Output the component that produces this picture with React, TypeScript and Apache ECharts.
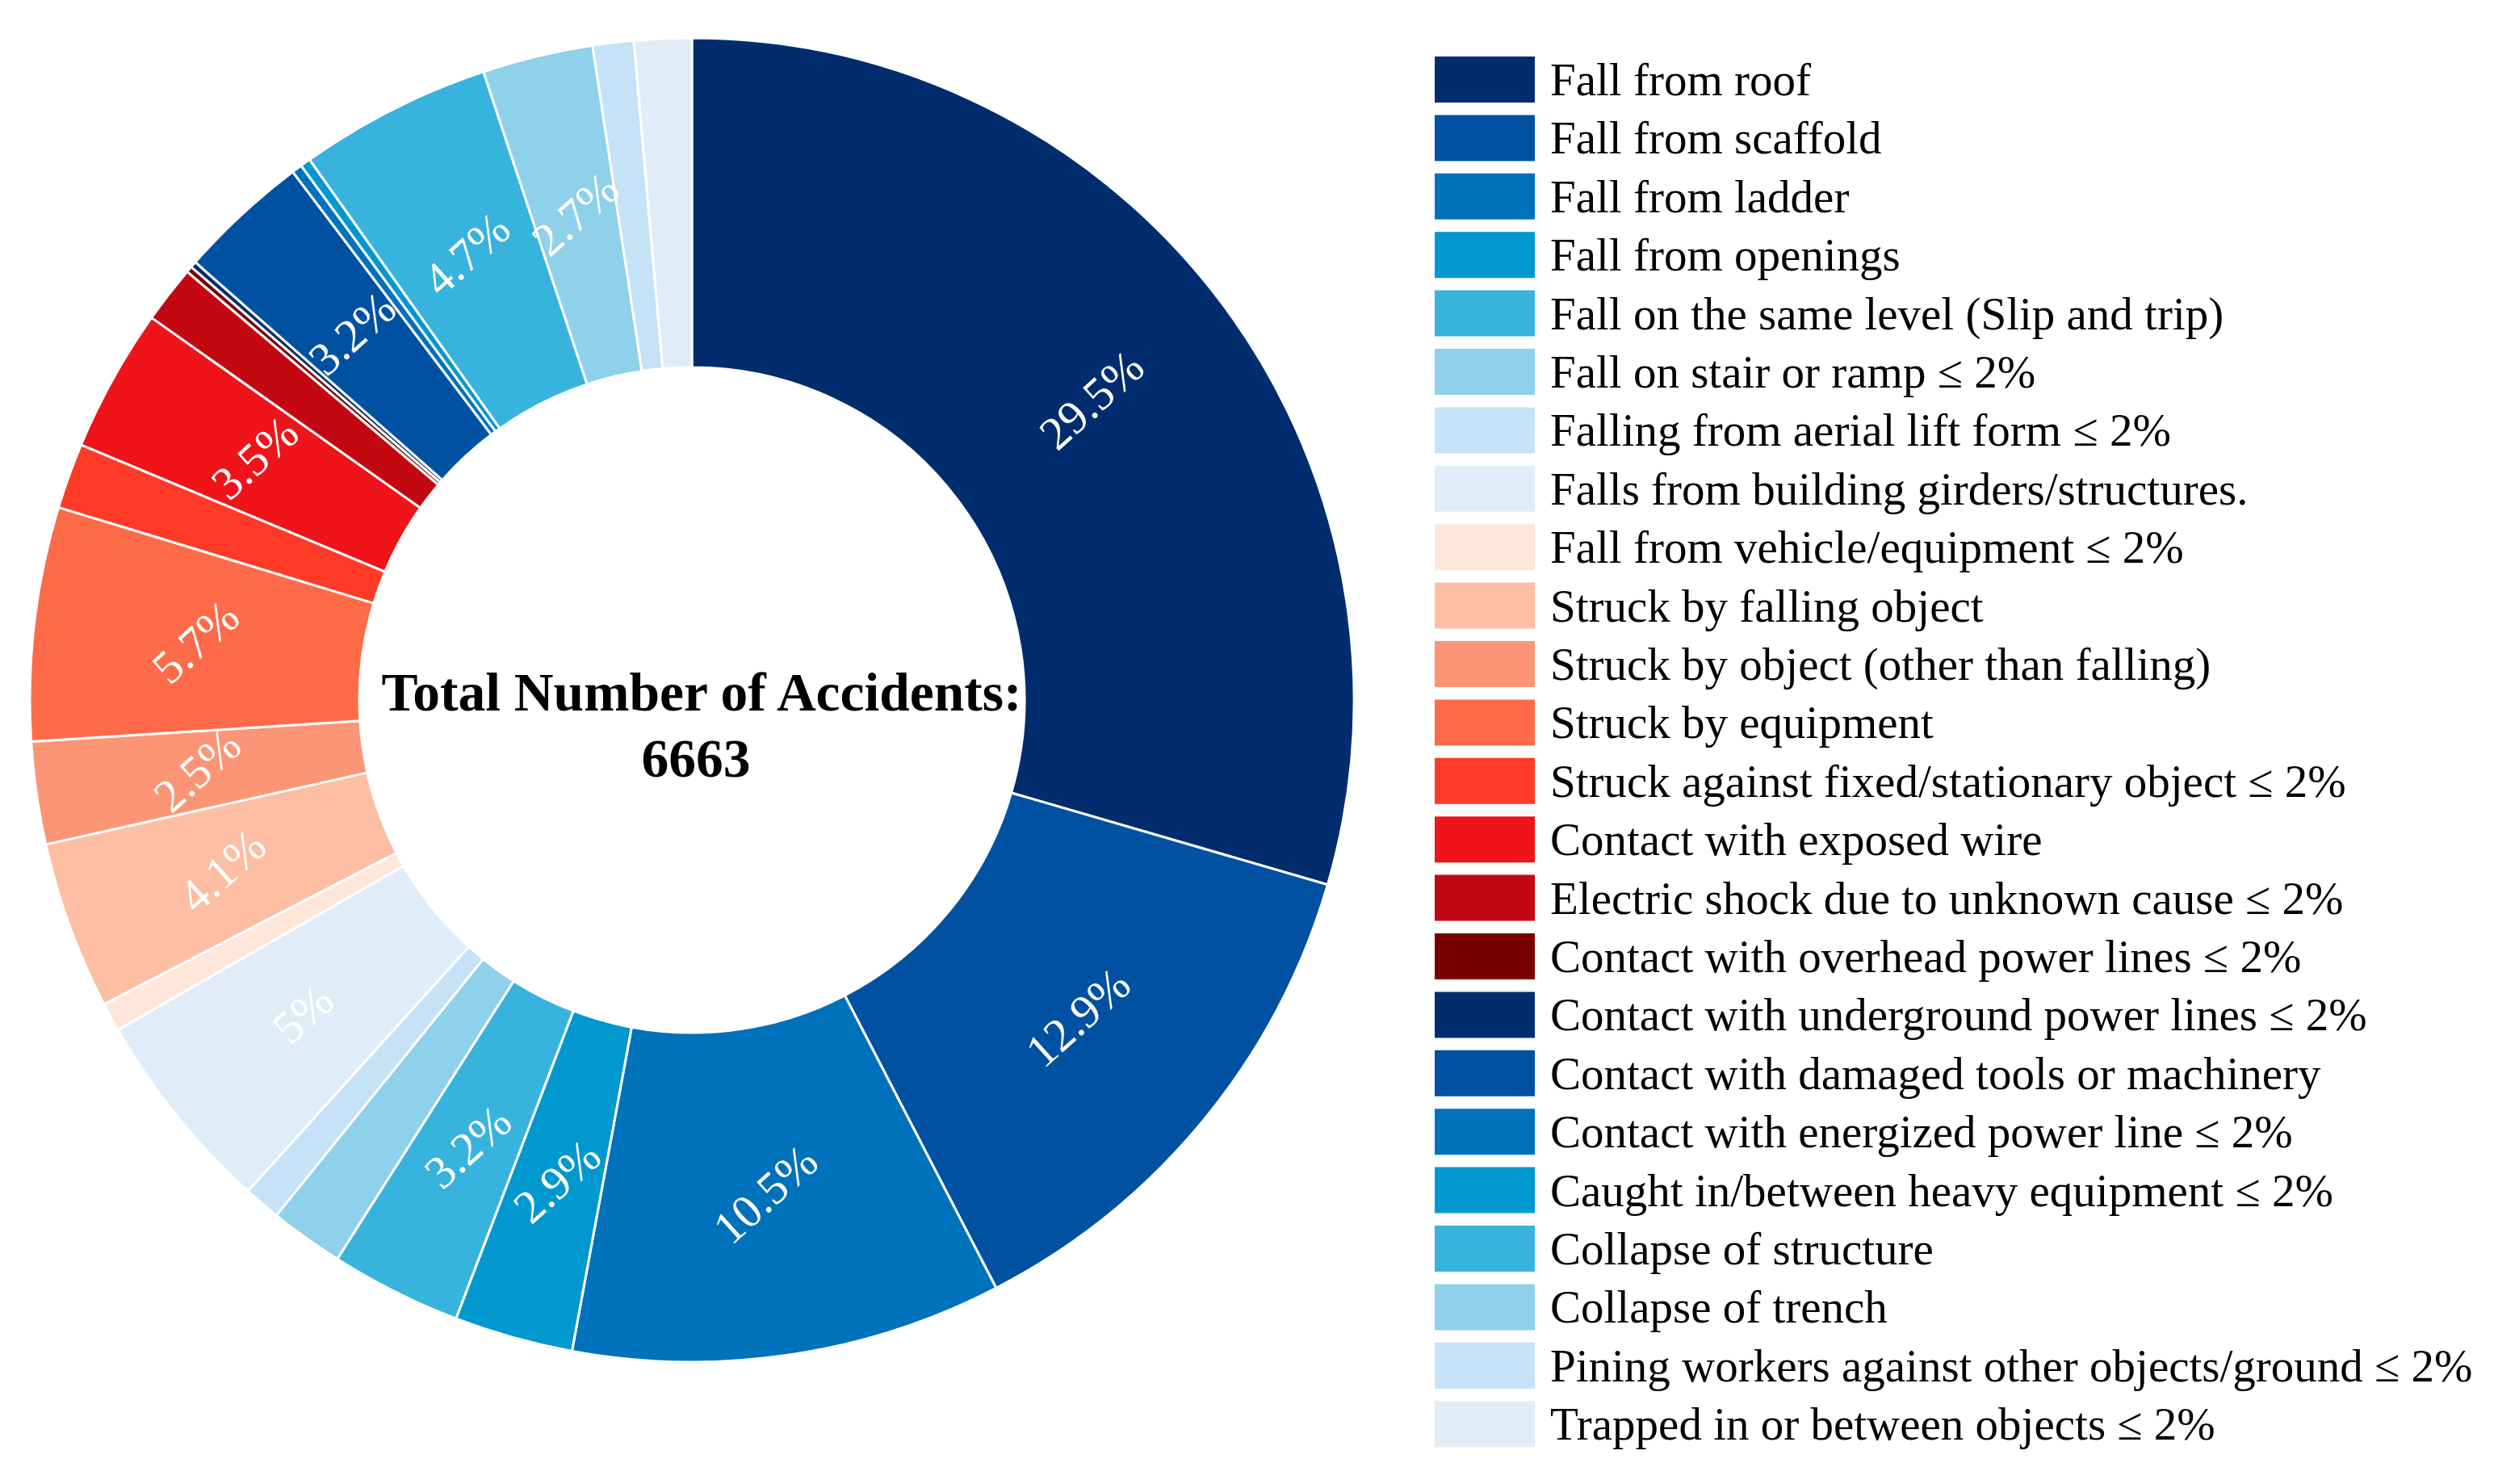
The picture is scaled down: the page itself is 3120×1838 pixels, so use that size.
import React, { useEffect, useRef } from "react";
import * as echarts from "echarts";

const categories = [
  "Fall from roof",
  "Fall from scaffold",
  "Fall from ladder",
  "Fall from openings",
  "Fall on the same level (Slip and trip)",
  "Fall on stair or ramp ≤ 2%",
  "Falling from aerial lift form ≤ 2%",
  "Falls from building girders/structures.",
  "Fall from vehicle/equipment ≤ 2%",
  "Struck by falling object",
  "Struck by object (other than falling)",
  "Struck by equipment",
  "Struck against fixed/stationary object ≤ 2%",
  "Contact with exposed wire",
  "Electric shock due to unknown cause ≤ 2%",
  "Contact with overhead power lines ≤ 2%",
  "Contact with underground power lines ≤ 2%",
  "Contact with damaged tools or machinery",
  "Contact with energized power line ≤ 2%",
  "Caught in/between heavy equipment ≤ 2%",
  "Collapse of structure",
  "Collapse of trench",
  "Pining workers against other objects/ground ≤ 2%",
  "Trapped in or between objects ≤ 2%",
];

// percentage of accidents per category (labelled ones as printed, small ones estimated)
const values = [
  29.5, 12.9, 10.5, 2.9, 3.2, 1.8, 0.9, 5, 0.7, 4.1, 2.5, 5.7, 1.6, 3.5, 1.4,
  0.15, 0.15, 3.2, 0.25, 0.25, 4.7, 2.7, 1.0, 1.4,
];

const colors = [
  "#012d6e", "#0051a1", "#0072bc", "#0098cf", "#38b3de", "#8fd0eb", "#c5e2f6", "#e0edf8",
  "#fee6d9", "#fdbea4", "#fc9576", "#ff6a48", "#ff3a26", "#ef131a", "#c40811", "#780000",
  "#012d6e", "#0051a1", "#0072bc", "#0098cf", "#38b3de", "#8fd0eb", "#c5e2f6", "#e0edf8",
];

const centerTitle = "Total Number of Accidents:";
const totalAccidents = "6663";

export default function App() {
  const ref = useRef<HTMLDivElement>(null);

  useEffect(() => {
    const chart = echarts.init(ref.current!, null, { renderer: "svg" });
    chart.setOption({
      animation: false,
      backgroundColor: "#ffffff",
      legend: {
        orient: "vertical",
        left: 1777,
        top: 70,
        padding: 0,
        itemWidth: 124,
        itemHeight: 57,
        itemGap: 15.4,
        icon: "rect",
        selectedMode: false,
        itemStyle: { borderWidth: 0 },
        textStyle: {
          fontFamily: "Liberation Serif",
          fontSize: 57,
          color: "#000000",
          lineHeight: 57,
          padding: [0, 0, 0, 14],
        },
        data: categories,
      },
      series: [
        {
          type: "pie",
          center: [857, 867],
          radius: [412, 820],
          startAngle: 90,
          clockwise: true,
          avoidLabelOverlap: false,
          itemStyle: { borderColor: "#ffffff", borderWidth: 3 },
          label: {
            show: true,
            position: "inside",
            rotate: 42,
            color: "#ffffff",
            fontFamily: "Liberation Serif",
            fontSize: 58,
            formatter: (p: any) => (p.value >= 2 ? p.value + "%" : ""),
          },
          labelLine: { show: false },
          emphasis: { disabled: true },
          data: categories.map((name, i) => ({
            name,
            value: values[i],
            itemStyle: { color: colors[i] },
          })),
        },
      ],
      graphic: [
        {
          type: "text",
          x: 869,
          y: 857,
          style: {
            text: centerTitle,
            font: 'bold 67.5px "Liberation Serif"',
            fill: "#000000",
            textAlign: "center",
            textVerticalAlign: "middle",
          },
        },
        {
          type: "text",
          x: 862,
          y: 939,
          style: {
            text: totalAccidents,
            font: 'bold 67.5px "Liberation Serif"',
            fill: "#000000",
            textAlign: "center",
            textVerticalAlign: "middle",
          },
        },
      ],
    });
    return () => chart.dispose();
  }, []);

  return (
    <div
      ref={ref}
      style={{ position: "absolute", left: 0, top: 0, width: 3120, height: 1838, background: "#ffffff" }}
    />
  );
}
